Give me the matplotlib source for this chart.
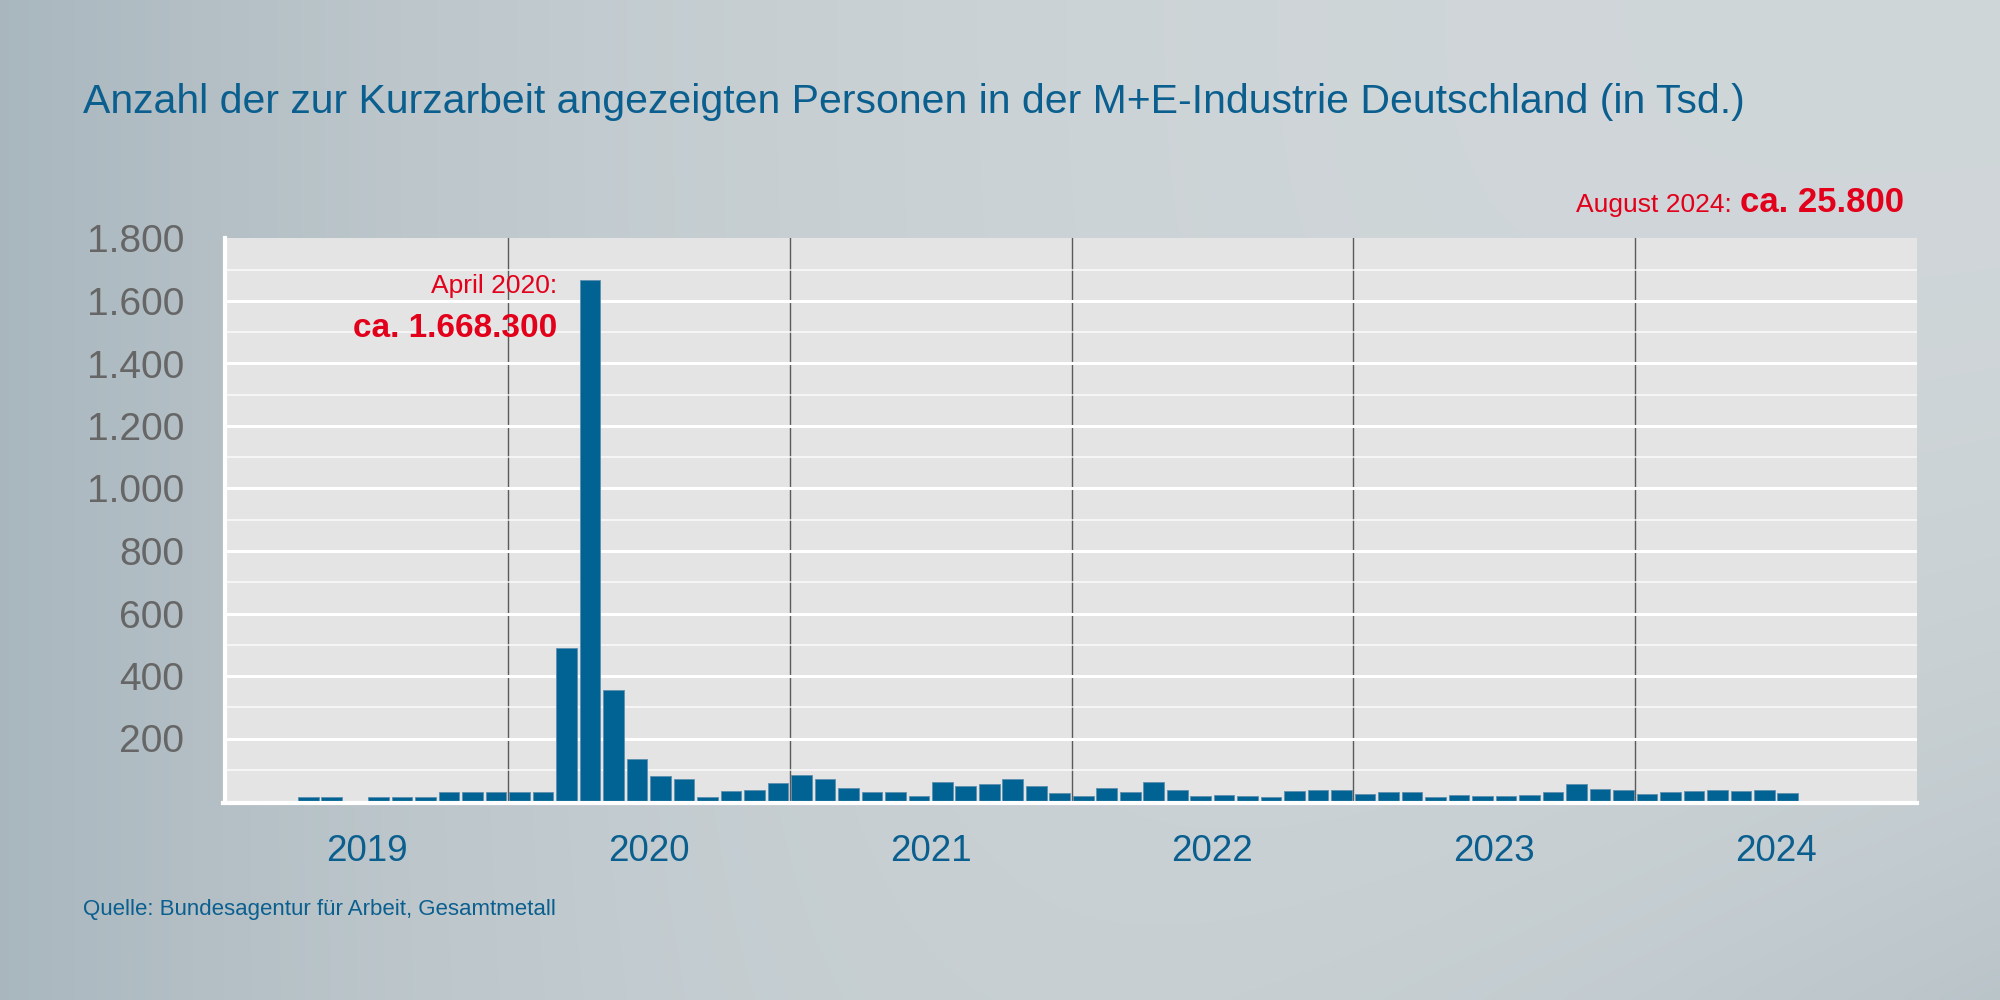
import numpy as np
import matplotlib
matplotlib.use("Agg")
import matplotlib.pyplot as plt

plt.rcParams['font.family'] = ['Liberation Sans', 'DejaVu Sans']

# ---------------- data (Tsd. persons, monthly) ----------------
years = ["2019", "2020", "2021", "2022", "2023", "2024"]
values_2019 = [0, 0, 0, 12, 12, 0, 12, 12, 12, 29, 29, 29]
values_2020 = [29, 29, 490, 1668.3, 355, 135, 81, 71, 12, 32, 35, 58]
values_2021 = [84, 70, 41, 29, 29, 16, 61, 47, 53, 70, 47, 25]
values_2022 = [17, 41, 29, 61, 35, 17, 19, 16, 14, 32, 34, 35]
values_2023 = [24, 30, 29, 14, 19, 17, 17, 19, 29, 53, 37, 34]
values_2024 = [21, 30, 32, 34, 31, 34, 25.8, 0, 0, 0, 0, 0]
y_ticks = [200, 400, 600, 800, 1000, 1200, 1400, 1600, 1800]
y_tick_labels = ["200", "400", "600", "800", "1.000", "1.200", "1.400", "1.600", "1.800"]

title = "Anzahl der zur Kurzarbeit angezeigten Personen in der M+E-Industrie Deutschland (in Tsd.)"
source = "Quelle: Bundesagentur für Arbeit, Gesamtmetall"

values = values_2019 + values_2020 + values_2021 + values_2022 + values_2023 + values_2024
x = np.arange(len(values))

BLUE = "#006394"
TEXT_BLUE = "#0b5f8f"
RED = "#e2001a"

fig = plt.figure(figsize=(20, 10), dpi=100)

# background gradient
bg = fig.add_axes([0, 0, 1, 1], zorder=-10)
H, W = 200, 400
u = np.linspace(0, 1, W)[None, :]
v = np.linspace(0, 1, H)[:, None]
t = 0.95 * (1 - u) ** 3 + 0.55 * (u * v) ** 2.5
t = np.clip(t, 0, 1)
light = np.array([0.815, 0.840, 0.850])
dark = np.array([0.655, 0.710, 0.740])
img = light[None, None, :] * (1 - t[..., None]) + dark[None, None, :] * t[..., None]
bg.imshow(img, aspect="auto", extent=[0, 1, 0, 1], interpolation="bicubic")
bg.set_axis_off()

ax = fig.add_axes([0.113, 0.199, 0.8455, 0.5625])
ax.set_facecolor("#e4e4e4")
ax.set_xlim(-0.5, 71.5)
ax.set_ylim(0, 1800)

# minor / major gridlines
for yv in range(100, 1800, 100):
    if yv % 200 == 0:
        ax.axhline(yv, color="white", lw=2.2, zorder=1.5)
    else:
        ax.axhline(yv, color="white", lw=1.1, alpha=0.85, zorder=1.5)

# year separators
for k in range(1, len(years)):
    ax.axvline(12 * k - 0.5, color="#5a5a5a", lw=1.0, zorder=1)

ax.bar(x, values, width=0.88, color=BLUE, edgecolor="#5f8fae", linewidth=0.6, zorder=2)

for s in ["top", "right"]:
    ax.spines[s].set_visible(False)
ax.spines["left"].set_color("white")
ax.spines["left"].set_linewidth(3)
ax.spines["left"].set_position(("outward", 1))
ax.spines["bottom"].set_color("white")
ax.spines["bottom"].set_linewidth(3)
ax.spines["bottom"].set_position(("outward", 1.6))
ax.spines["bottom"].set_bounds(-0.62, 71.5)
ax.spines["left"].set_zorder(3)
ax.spines["bottom"].set_zorder(3)

ax.set_yticks(y_ticks)
ax.set_yticklabels(y_tick_labels, fontsize=28, color="#666666")
ax.tick_params(axis="y", length=0, pad=29)

ax.set_xticks([12 * k + 5.5 for k in range(len(years))])
ax.set_xticklabels(years, fontsize=26.5, color=TEXT_BLUE)
ax.tick_params(axis="x", length=0, pad=22)

fig.text(0.0415, 0.887, title, fontsize=29.5, color=TEXT_BLUE, va="baseline", ha="left")
fig.text(0.0415, 0.085, source, fontsize=16, color=TEXT_BLUE, va="baseline", ha="left")

fig.text(0.2785, 1 - 0.293, "April 2020:", fontsize=19, color=RED, ha="right", va="baseline")
fig.text(0.2785, 1 - 0.337, "ca. 1.668.300", fontsize=24, color=RED, fontweight="bold",
         ha="right", va="baseline")

fig.text(0.952, 1 - 0.212, "ca. 25.800", fontsize=25, color=RED, fontweight="bold",
         ha="right", va="baseline")
fig.text(0.866, 1 - 0.212, "August 2024:", fontsize=19, color=RED, ha="right", va="baseline")

fig.savefig("out.png", dpi=100)
